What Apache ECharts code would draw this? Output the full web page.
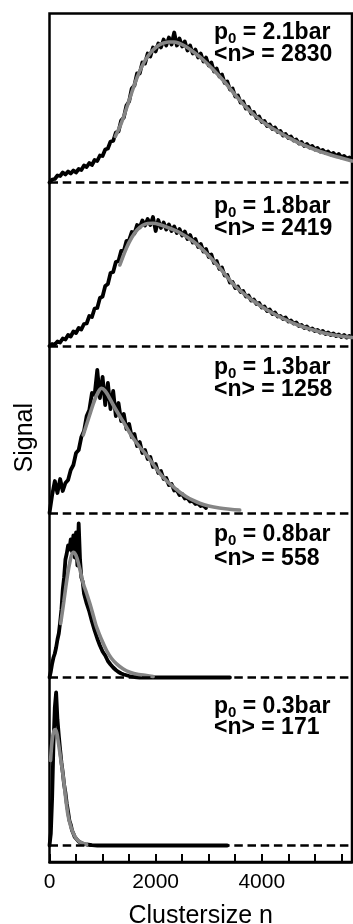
<!DOCTYPE html>
<html><head><meta charset="utf-8">
<script src="https://cdn.jsdelivr.net/npm/echarts@6/dist/echarts.min.js"></script>
<style>html,body{margin:0;padding:0;background:#fff}#c{width:353px;height:924px}</style>
</head><body><div id="c"></div>
<script>
// ---------- data ----------
const xAxisMax = 5700;
const xLabelInterval = 2000;   // labelled ticks: 0, 2000, 4000
const xTickInterval = 500;     // small ticks every 500
const pressures = ['2.1', '1.8', '1.3', '0.8', '0.3'];
const meanSizes = ['2830', '2419', '1258', '558', '171'];

// panel 1 (p0 = 2.1 bar): measured signal, bins of 50
const p1Step = 50;
const p1Signal = [0,3,3.5,7,6.5,10,8,11,9,12,10,13.5,12.5,17,15.5,19.5,17.5,22.5,21.5,27,26.5,33,34,41,41.5,50,51,62,65,77,81,94,97,109,109,120,119,129,126,135,131,139,135,143,137,145,138,150,137,144,136,141,132,137,129,133,125,129,121,125,117,120,111,114,106,108,99.5,101,93,94,86,87,80,81,74,75.5,69,70.5,64.5,66,60.5,61.5,56.5,58,53.5,55,50.5,51.5,47,48.5,44.5,46,42,43,39,40.5,36.5,38.5,35,36.5,33,34.5,31,32.5,29.5,31,28,29.5,26.5,28.5,25,26.5,24,25,22.5];
const p1Fit = [[1240,46],[1350,59],[1450,74],[1550,90],[1650,105],[1750,117],[1850,126],[1950,132.5],[2050,137],[2150,139.5],[2250,140.5],[2350,140.5],[2450,139],[2550,136.5],[2650,133],[2750,129],[2900,122.5],[3100,112],[3300,100.5],[3500,87.5],[3700,75.5],[3900,65.5],[4100,57.5],[4300,51],[4500,45],[4700,39.5],[4900,35],[5100,31],[5300,27.5],[5500,24.5],[5700,21.5]];

// panel 2 (p0 = 1.8 bar)
const p2Step = 50;
const p2Signal = [0,2,1.5,4.5,3.5,7.5,6.5,11,9.5,14.5,13,18,16.5,22,22.5,30,29,37.5,38,48,49.5,60,62,73,74,84,85,95,95,105,106,114,112.5,121,118.5,125.5,120.5,127,121,129,115,126,118,123.5,116.5,121.5,115,119.5,113,117,110.5,114.5,107,111,103.5,107,99,102,94.5,97,89,91.5,83,85,77,78.5,70.5,71,63.5,64,58,59.5,54,55,49.5,50.5,45.5,46.5,42,43,38.5,39.5,35,36.5,32,33.5,29.5,30,27,28.5,24.5,25.5,22.5,23.5,20,21,18,19.5,16.5,17.5,15,16,13.5,15,12,13.5,11,12.5,10,11.5,9,11,8.5,10,8.5];
const p2Fit = [[1326,81],[1450,98],[1550,108.5],[1650,116],[1750,120.5],[1850,122.5],[1950,122.7],[2100,121],[2250,118],[2450,113.5],[2700,105],[2950,93],[3200,78.5],[3450,62.5],[3600,55],[3800,46.5],[4100,36],[4400,27.5],[4700,20.5],[5000,15.5],[5300,11.5],[5700,8.5]];

// panel 3 (p0 = 1.3 bar)
const p3Step = 50;
const p3Signal = [0,18,32,20,34,22,30,33,43,48,60,63,76,82,97,103,120,118,143,115,136,108,130,104,122,97,110,92,99,84,89,76,79,67,71,60,63,54,56,46,49,40,42,34,35,28,29,22.5,23,18,19,14.5,15,11.5,12,9,9.5,7,7.5,5];
const p3Fit = [[636,78],[750,97],[850,113],[920,121],[982,124.7],[1050,122],[1120,116],[1201,108],[1300,99],[1389,91.3],[1480,83],[1577,74.7],[1700,66],[1828,58],[1950,49],[2078,39.7],[2200,32.5],[2329,26.3],[2450,21],[2580,16.3],[2700,12.8],[2831,9.7],[3000,7],[3200,5],[3400,3.8],[3584,3]];

// panel 4 (p0 = 0.8 bar)
const p4Signal = [[0,0],[25,6],[50,14],[75,20],[100,24],[125,30],[150,38],[175,44],[200,55],[225,68],[250,88],[275,100],[300,118],[325,124],[350,132],[375,128],[400,138],[425,126],[450,142],[475,120],[500,145],[525,112],[550,154],[575,118],[600,100],[625,96],[650,84],[675,86],[700,74],[725,76],[750,66],[775,65],[800,56],[825,56],[850,47],[875,46],[900,39],[925,38],[950,32],[975,31],[1000,26],[1050,22],[1100,16.5],[1150,13],[1200,10],[1250,7.5],[1300,5.5],[1350,4],[1400,3],[1500,1.5],[1600,0.5],[1700,0],[3400,0]];
const p4Fit = [[210,54],[270,76],[330,99],[390,117],[448,125.3],[500,122],[560,111],[636,94],[700,84],[762,73.7],[830,61],[888,50.3],[980,38],[1076,27],[1170,19],[1264,13.7],[1390,8.5],[1514,5.3],[1680,3],[1828,2],[1953,1]];

// panel 5 (p0 = 0.3 bar)
const p5Signal = [[0,0],[25,12],[50,48],[75,102],[100,138],[125,153],[150,126],[175,110],[200,96],[225,83],[250,73],[275,61],[300,53],[325,42],[350,34],[375,25],[400,21],[425,15],[450,12],[475,8.5],[500,7],[550,4],[600,2.5],[650,1.5],[700,1],[800,0.3],[900,0],[3350,0]];
const p5Fit = [[20,85],[50,105],[80,114],[110,116],[140,112],[170,102],[200,91],[230,80],[260,68],[292,53.5],[320,41],[348,30.5],[385,22],[423,15.5],[460,11],[498,7.5],[574,3.5],[668,1.5],[700,1]];

// ---------- layout ----------
const frame = {left: 49.5, right: 1, top: 13.5, bottom: 62};
const baselines = [182.5, 346, 513, 677.5, 845.5];
const labelY = [[33, 55], [207, 229], [368, 390], [535, 559], [707, 728]];
const labelX = 214;
const yMin = -10, yMax = 160;
const FONT = '"Liberation Sans", Helvetica, Arial, sans-serif';

const stepped = (vals, step) => vals.map((v, k) => [k * step, v]);
const panels = [
  {sig: stepped(p1Signal, p1Step), fit: p1Fit},
  {sig: stepped(p2Signal, p2Step), fit: p2Fit},
  {sig: stepped(p3Signal, p3Step), fit: p3Fit},
  {sig: p4Signal, fit: p4Fit},
  {sig: p5Signal, fit: p5Fit}
];

const grids = [{left: frame.left, right: frame.right, top: frame.top, bottom: frame.bottom,
  outerBoundsMode: 'none', containLabel: false,
  show: true, borderColor: '#000', borderWidth: 2.5, backgroundColor: 'transparent'}];
const xAxes = [{
  type: 'value', gridIndex: 0, min: 0, max: xAxisMax, interval: xLabelInterval,
  axisLine: {show: true, lineStyle: {color: '#000', width: 2.5}},
  axisTick: {show: false},
  axisLabel: {show: true, margin: 10, color: '#000', fontSize: 21, fontFamily: FONT,
    showMaxLabel: false, hideOverlap: false, formatter: v => String(v)},
  splitLine: {show: false},
  name: 'Clustersize n', nameLocation: 'middle', nameGap: 42,
  nameTextStyle: {color: '#000', fontSize: 25, fontFamily: FONT}
}, {
  type: 'value', gridIndex: 0, min: 0, max: xAxisMax, interval: xTickInterval, position: 'bottom',
  axisLine: {show: false},
  axisTick: {show: true, inside: true, length: 8, lineStyle: {color: '#000', width: 2}},
  axisLabel: {show: false}, splitLine: {show: false}
}];
const yAxes = [{
  type: 'value', gridIndex: 0, min: 0, max: 1,
  axisLine: {show: false}, axisTick: {show: false}, axisLabel: {show: false}, splitLine: {show: false},
  name: 'Signal', nameLocation: 'middle', nameGap: 12,
  nameTextStyle: {color: '#000', fontSize: 25, fontFamily: FONT}
}];
const series = [];
const graphics = [];

panels.forEach((p, i) => {
  const b = baselines[i];
  const ax = i + 2, ay = i + 1;
  grids.push({left: frame.left, right: frame.right, top: b - yMax, height: yMax - yMin, show: false,
    outerBoundsMode: 'none', containLabel: false});
  xAxes.push({type: 'value', gridIndex: i + 1, min: 0, max: xAxisMax, show: false});
  yAxes.push({type: 'value', gridIndex: i + 1, min: yMin, max: yMax, show: false});
  series.push({
    type: 'line', xAxisIndex: ax, yAxisIndex: ay, data: [], z: 1, silent: true,
    markLine: {silent: true, symbol: 'none', label: {show: false},
      lineStyle: {color: '#000', width: 2.5, type: [8.5, 4.7]},
      data: [{yAxis: 0}], animation: false}
  });
  series.push({
    type: 'line', xAxisIndex: ax, yAxisIndex: ay, data: p.sig, z: 2,
    showSymbol: false, symbol: 'none', clip: false,
    lineStyle: {color: '#000', width: 3.8, join: 'round', cap: 'round'}
  });
  series.push({
    type: 'line', xAxisIndex: ax, yAxisIndex: ay, data: p.fit, z: 3,
    showSymbol: false, symbol: 'none', smooth: 0.4, clip: false,
    lineStyle: {color: '#858585', width: 3.6, cap: 'round'}
  });
  const rich = {
    m: {fontSize: 23, fontWeight: 'bold', fontFamily: FONT, lineHeight: 26, fill: '#000', color: '#000'},
    s: {fontSize: 15, fontWeight: 'bold', fontFamily: FONT, lineHeight: 15, verticalAlign: 'bottom', fill: '#000', color: '#000'}
  };
  graphics.push({type: 'text', x: labelX, y: labelY[i][0], z: 10,
    style: {text: '{m|p}{s|0}{m| = ' + pressures[i] + 'bar}', rich: rich, verticalAlign: 'middle', align: 'left',
      fontSize: 23, fontWeight: 'bold', fontFamily: FONT, fill: '#000'}});
  graphics.push({type: 'text', x: labelX, y: labelY[i][1], z: 10,
    style: {text: '<n> = ' + meanSizes[i], verticalAlign: 'middle', align: 'left',
      fontSize: 23, fontWeight: 'bold', fontFamily: FONT, fill: '#000'}});
});

const chart = echarts.init(document.getElementById('c'), null, {renderer: 'canvas'});
chart.setOption({
  animation: false,
  backgroundColor: '#fff',
  grid: grids, xAxis: xAxes, yAxis: yAxes, series: series, graphic: graphics
});
</script>
</body></html>
